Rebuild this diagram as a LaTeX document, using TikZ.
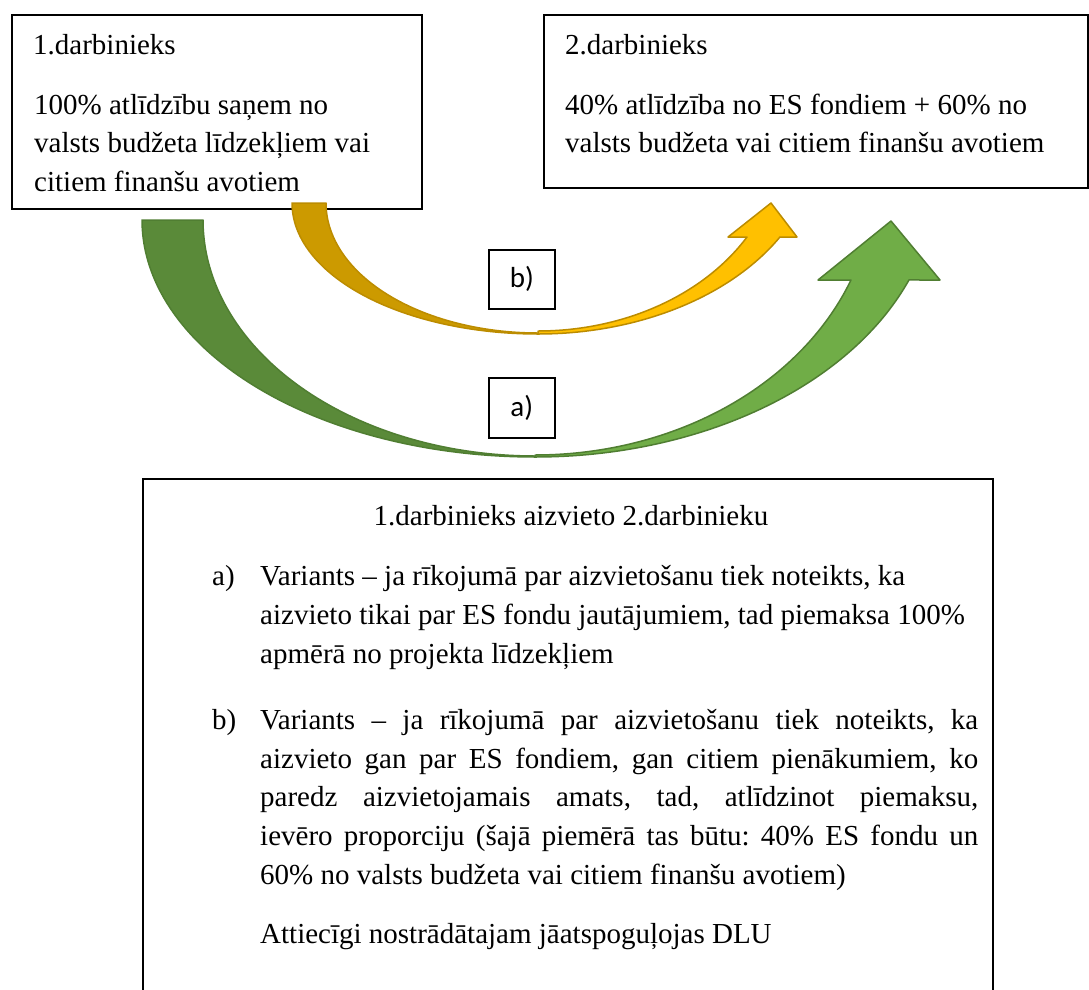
\documentclass[tikz,border=0pt]{standalone}
\usepackage{fontspec}
\setmainfont{Liberation Serif}
\newfontfamily\calib{Carlito}
\frenchspacing
\definecolor{gdark}{RGB}{90,138,57}
\definecolor{glight}{RGB}{112,173,71}
\definecolor{gborder}{RGB}{80,126,50}
\definecolor{odark}{RGB}{204,154,0}
\definecolor{olight}{RGB}{255,192,0}
\definecolor{oborder}{RGB}{188,140,0}
\tikzset{
  frame/.style={draw=black, line width=1.6pt, fill=white, rectangle, inner sep=0pt, anchor=north west},
  txt/.style={anchor=base west, inner sep=0pt, font=\fontsize{29}{36}\selectfont\frenchspacing},
  lbl/.style={anchor=center, inner sep=0pt, font=\calib\fontsize{29}{34}\selectfont},
  gback/.style={fill=gdark, draw=gborder, line width=1.5pt, line join=round},
  gfront/.style={fill=glight, draw=gborder, line width=1.5pt, line join=round},
  oback/.style={fill=odark, draw=oborder, line width=1.5pt, line join=round},
  ofront/.style={fill=olight, draw=oborder, line width=1.5pt, line join=round}
}
\begin{document}
\begin{tikzpicture}[x=1pt,y=-1pt]
\useasboundingbox (0,0) rectangle (1089,989);
% boxes
\node[frame, minimum width=410pt, minimum height=194pt] (w1) at (11,14) {};
\node[frame, minimum width=544pt, minimum height=173pt] (w2) at (543,14) {};
\draw[line width=1.6pt] (143,992) -- (143,479) -- (993,479) -- (993,992);
\coordinate (bb) at (143,479);
% box 1 text
\node[txt] (t1a) at (33,54) {1.darbinieks};
\node[txt] (t1b) at (34,114) {100\% atlīdzību saņem no};
\node[txt] (t1c) at (34,152.5) {valsts budžeta līdzekļiem vai};
\node[txt] (t1d) at (34,191) {citiem finanšu avotiem};
% box 2 text
\node[txt] (t2a) at (565,54) {2.darbinieks};
\node[txt] (t2b) at (565,114) {40\% atlīdzība no ES fondiem + 60\% no};
\node[txt] (t2c) at (565,152.5) {valsts budžeta vai citiem finanšu avotiem};
% green arrow
\path[gback] plot[domain=180:90,samples=80,variable=\t] ({535+393*cos(\t)},{220+237*sin(\t)})
  -- plot[domain=90:180,samples=80,variable=\t] ({535+332*cos(\t)},{220+236*sin(\t)}) -- cycle;
\path[gfront] plot[domain=90:21.16,samples=80,variable=\t] ({535+401*cos(\t)},{180+277*sin(\t)})
  -- (940,280) -- (891,221) -- (818,280) -- (851,280)
  -- plot[domain=21.32:90,samples=80,variable=\t] ({535+339.2*cos(\t)},{180+275*sin(\t)}) -- cycle;
% orange arrow
\path[oback] plot[domain=180:90,samples=80,variable=\t] ({538+246*cos(\t)},{203+131*sin(\t)})
  -- plot[domain=90:180,samples=80,variable=\t] ({538+212*cos(\t)},{203+130*sin(\t)}) -- cycle;
\path[ofront] plot[domain=90:30,samples=80,variable=\t] ({538+279.4*cos(\t)},{140+194*sin(\t)})
  -- (797,237) -- (771,203) -- (728,237) -- (747,237)
  -- plot[domain=30.52:90,samples=80,variable=\t] ({538+242.6*cos(\t)},{140+191*sin(\t)}) -- cycle;
% label boxes
\node[frame, minimum width=66pt, minimum height=59pt] (bx) at (488,249) {};
\node[lbl] (bl) at (bx.center) {b)};
\node[frame, minimum width=66pt, minimum height=60pt] (ax) at (488,377) {};
\node[lbl] (al) at (ax.center) {a)};
% bottom box text
\node[anchor=base, inner sep=0pt, font=\fontsize{29}{36}\selectfont] (title) at (571,525) {1.darbinieks aizvieto 2.darbinieku};
\node[txt] (ia) at (212,585) {a)};
\node[txt] (a1) at (260,585) {Variants – ja rīkojumā par aizvietošanu tiek noteikts, ka};
\node[txt] (a2) at (260,624) {aizvieto tikai par ES fondu jautājumiem, tad piemaksa 100\%};
\node[txt] (a3) at (260,663) {apmērā no projekta līdzekļiem};
\node[txt] (ib) at (212,729) {b)};
\node[txt] (b1) at (260,729) {\makebox[718pt][s]{Variants – ja rīkojumā par aizvietošanu tiek noteikts, ka}};
\node[txt] (b2) at (260,768) {\makebox[718pt][s]{aizvieto gan par ES fondiem, gan citiem pienākumiem, ko}};
\node[txt] (b3) at (260,806.5) {\makebox[718pt][s]{paredz aizvietojamais amats, tad, atlīdzinot piemaksu,}};
\node[txt] (b4) at (260,845) {\makebox[718pt][s]{ievēro proporciju (šajā piemērā tas būtu: 40\% ES fondu un}};
\node[txt] (b5) at (260,884) {60\% no valsts budžeta vai citiem finanšu avotiem)};
\node[txt] (c1) at (260,943) {Attiecīgi nostrādātajam jāatspoguļojas DLU};
\end{tikzpicture}
\end{document}
